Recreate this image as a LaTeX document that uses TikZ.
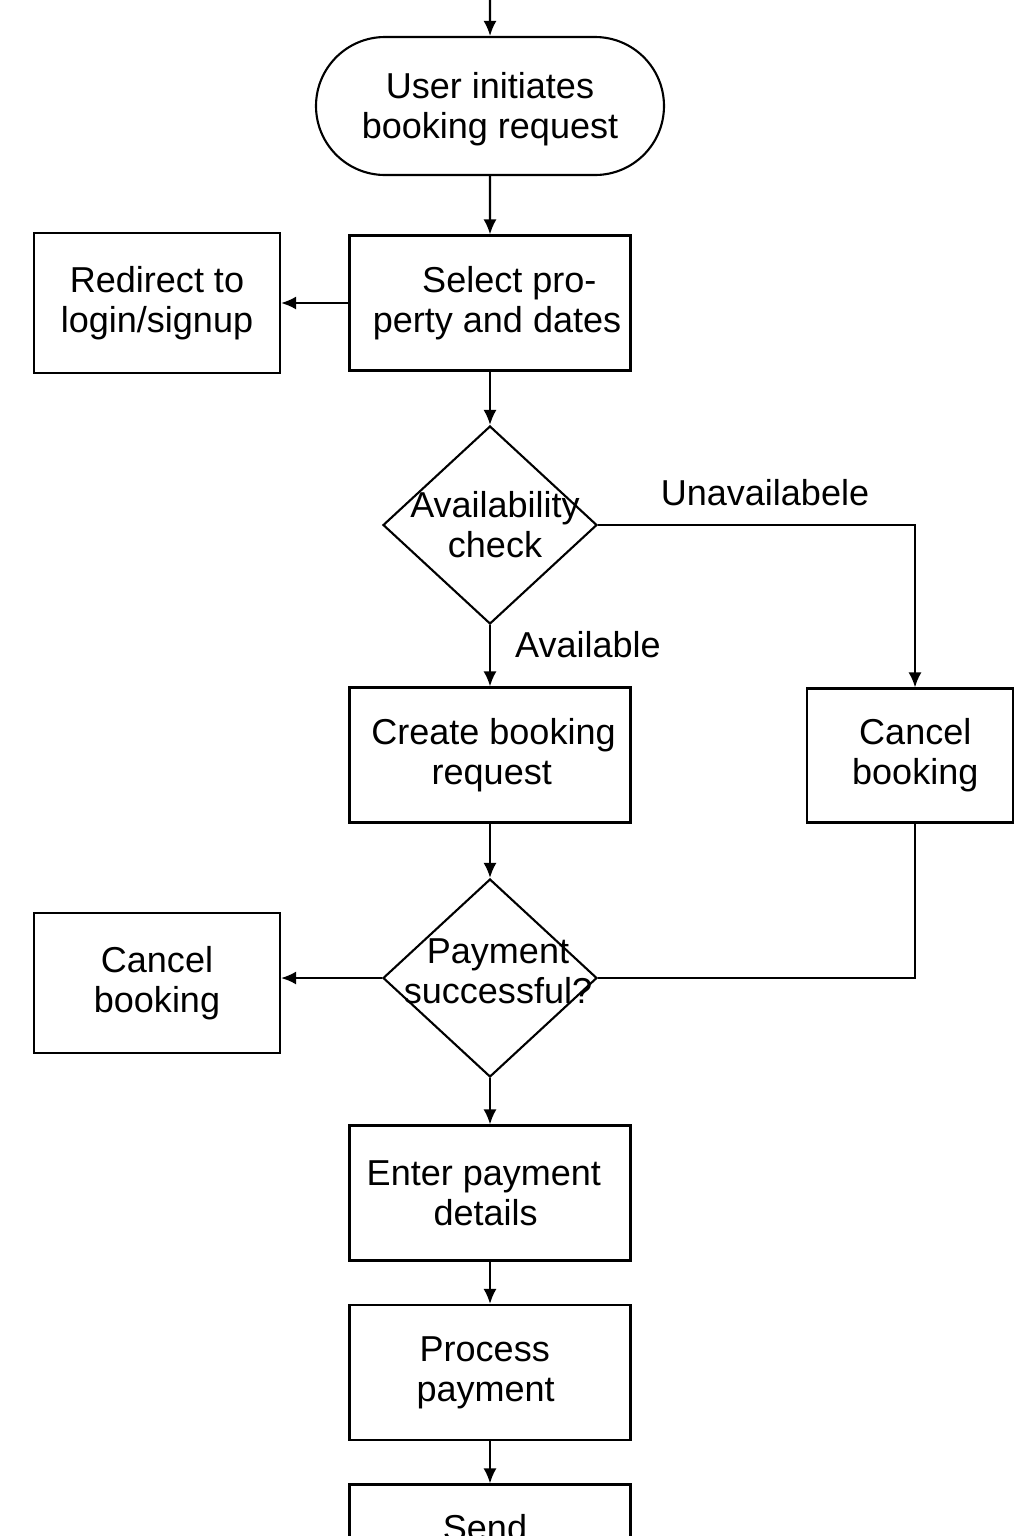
\documentclass[tikz,border=0pt]{standalone}
\usepackage{fontspec}
\setmainfont{Liberation Sans}
\usetikzlibrary{shapes.geometric, shapes.misc, arrows.meta, positioning, calc}

\begin{document}
\begin{tikzpicture}[x=0.02cm, y=-0.02cm, line width=1.2pt,
    every node/.style={font=\fontsize{20.5}{22.8}\selectfont, align=center, inner sep=0pt},
    box/.style={draw, rectangle, minimum width=281*0.02cm, minimum height=135*0.02cm},
    sidebox/.style={draw, rectangle, minimum width=246*0.02cm, minimum height=140*0.02cm},
    term/.style={draw, rounded rectangle, minimum width=348*0.02cm, minimum height=138*0.02cm},
    decide/.style={draw, diamond, minimum width=214*0.02cm, minimum height=198*0.02cm},
    arr/.style={-{Latex[length=0.3cm,width=0.26cm]}}]
      \useasboundingbox (0,0) rectangle (1024,1536);
      \clip (0,0) rectangle (1024,1536);

      \coordinate (entry) at (490,0);
      \node[term] (start) at (490,106) {\rule{0pt}{19pt}User initiates\\booking request};
      \node[box] (select) at (490,303) {\hspace*{22pt}Select pro-\\\hspace*{8pt}perty and dates};
      \node[sidebox] (redirect) at (157,303) {Redirect to\\login/signup};
      \node[decide] (avail) at (490,525) {};
      \node[align=center] (availtxt) at (495,525) {Availability\\check};
      \node[box] (create) at (490,755) {\hspace*{4pt}Create booking\\\hspace*{2pt}request};
      \node[draw, rectangle, minimum width=206*0.02cm, minimum height=134*0.02cm] (cancelR) at (910,755.5) {\hspace*{6pt}Cancel\\\hspace*{6pt}booking};
      \node[decide] (pay) at (490,978) {};
      \node[align=center] (paytxt) at (498,971) {Payment\\successful?};
      \node[sidebox] (cancelL) at (157,983) {Cancel\\booking};
      \node[box] (enter) at (490,1193) {Enter payment\hspace*{7pt}\\details\hspace*{5pt}};
      \node[box] (process) at (490,1372.5) {Process\hspace*{6pt}\\payment\hspace*{5pt}};
      \node[box] (send) at (490,1552) {};
      \node[anchor=base] (sendtxt) at (485,1540) {Send};

      \node[anchor=base] (unav) at (765,505) {Unavailabele};
      \node[anchor=base] (av) at (588,657) {Available};

      \draw[arr] (entry) -- (start);
      \draw[arr] (start) -- (select);
      \draw[arr] (select) -- (redirect);
      \draw[arr] (select) -- (avail);
      \draw[arr] (avail.east) -| ([xshift=5*0.02cm]cancelR.north);
      \draw[arr] (avail) -- (create);
      \draw[arr] (create) -- (pay);
      \draw[arr] (pay.west) -- (pay.west -| cancelL.east);
      \draw ([xshift=5*0.02cm]cancelR.south) |- (pay.east);
      \draw[arr] (pay) -- (enter);
      \draw[arr] (enter) -- (process);
      \draw[arr] (process) -- (send);
    \end{tikzpicture}
\end{document}
